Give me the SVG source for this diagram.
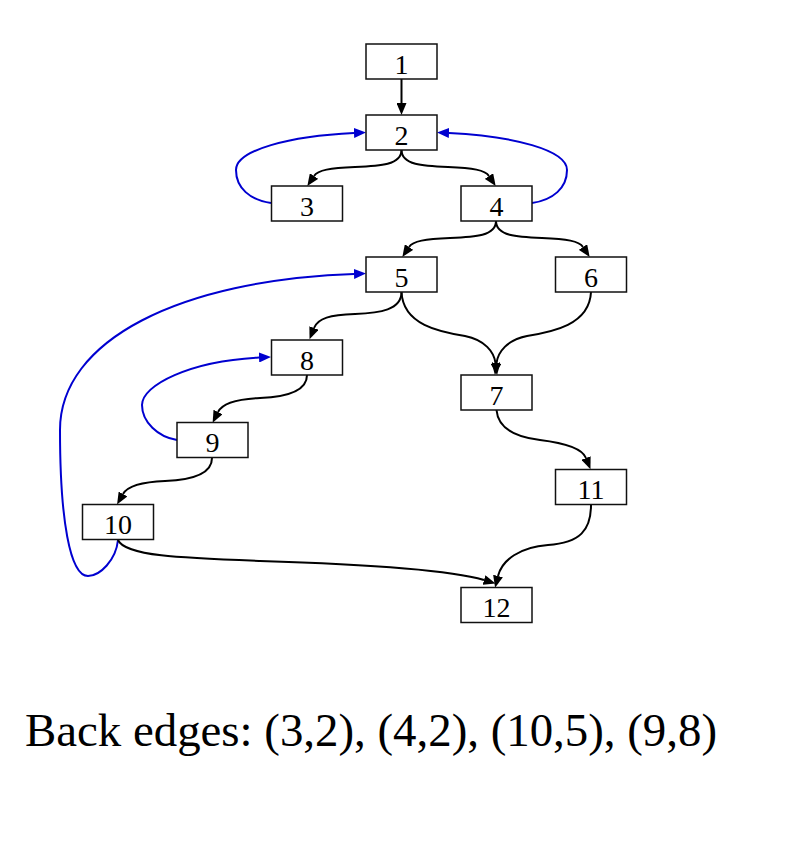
<svg xmlns="http://www.w3.org/2000/svg" width="801" height="847" viewBox="0 0 801 847">
<style>
.node rect{fill:#fff;stroke:#111;stroke-width:1.5}
.node text{font-family:"Liberation Serif","DejaVu Serif",serif;font-size:28px;fill:#000;text-anchor:middle}
.e{fill:none;stroke:#000;stroke-width:2;marker-end:url(#ab)}
.b{fill:none;stroke:#0000d0;stroke-width:2;marker-end:url(#abl)}
.cap{font-family:"Liberation Serif","DejaVu Serif",serif;font-size:47px;fill:#000}
</style>
<defs>
<marker id="ab" markerUnits="userSpaceOnUse" markerWidth="12" markerHeight="10" refX="0" refY="5" orient="auto" viewBox="0 0 12 10"><path d="M0,0 L12,5 L0,10 z" fill="#000"/></marker>
<marker id="abl" markerUnits="userSpaceOnUse" markerWidth="12" markerHeight="10" refX="0" refY="5" orient="auto" viewBox="0 0 12 10"><path d="M0,0 L12,5 L0,10 z" fill="#0000d0"/></marker>
</defs>
<g id="edges">
<path class="e" d="M401.5,79 L401.5,103"/>
<path class="e" d="M401.5,150 C401.5,165 380,166 355,167 C330,168 318,170 314,176"/>
<path class="e" d="M401.5,150 C401.5,165 423,166 448,167 C473,168 485,170 489,176"/>
<path class="b" d="M271,203 C250,200 236,188 236,170 C236,150 290,136 354,133"/>
<path class="b" d="M532,203 C553,200 567,188 567,170 C567,150 513,136 449,133"/>
<path class="e" d="M496,221 C496,236 475,237 450,238 C425,239 413,241 409,247"/>
<path class="e" d="M496,221 C496,236 517,237 542,238 C567,239 579,241 583,247"/>
<path class="e" d="M401.5,292 C403,325 440,332 465,336 C485,340 494,352 495.5,363"/>
<path class="e" d="M591,292 C589.5,325 552,332 527,336 C507,340 498,352 496.5,363"/>
<path class="e" d="M401.5,292 C401.5,310 380,313 355,314 C330,315 318,318 314,328"/>
<path class="b" d="M118,540 C116,560 100,576 88,576 C70,576 60,520 60,430 C60,340 180,280 354,274"/>
<path class="e" d="M307,375 C307,392 285,397 260,398 C235,399 222,404 218,412"/>
<path class="b" d="M177,440 C158,437 142,422 142,405 C142,385 190,361 259,357.5"/>
<path class="e" d="M212,458 C212,475 190,480 165,481 C140,482 127,487 123,494"/>
<path class="e" d="M496.5,410 C498,428 515,437 540,440 C565,443 582,448 586,458"/>
<path class="e" d="M591,505 C591,530 580,543 548,545 C520,547 502,560 498,576"/>
<path class="e" d="M118,540 C125,556 180,558 260,561 C360,564 450,570 484,580"/>
</g>
<g id="n1" class="node"><rect x="366" y="44" width="71" height="35"/><text x="401.5" y="73.5">1</text></g>
<g id="n2" class="node"><rect x="366" y="115" width="71" height="35"/><text x="401.5" y="144.5">2</text></g>
<g id="n3" class="node"><rect x="271.5" y="186" width="71" height="35"/><text x="307" y="215.5">3</text></g>
<g id="n4" class="node"><rect x="461" y="186" width="71" height="35"/><text x="496.5" y="215.5">4</text></g>
<g id="n5" class="node"><rect x="366" y="257" width="71" height="35"/><text x="401.5" y="286.5">5</text></g>
<g id="n6" class="node"><rect x="555.5" y="257" width="71" height="35"/><text x="591" y="286.5">6</text></g>
<g id="n7" class="node"><rect x="461" y="375" width="71" height="35"/><text x="496.5" y="404.5">7</text></g>
<g id="n8" class="node"><rect x="271.5" y="340" width="71" height="35"/><text x="307" y="369.5">8</text></g>
<g id="n9" class="node"><rect x="177" y="422.5" width="71" height="35"/><text x="212.5" y="452">9</text></g>
<g id="n10" class="node"><rect x="82.5" y="504.5" width="71" height="35"/><text x="118" y="534">10</text></g>
<g id="n11" class="node"><rect x="555.5" y="469.5" width="71" height="35"/><text x="591" y="499">11</text></g>
<g id="n12" class="node"><rect x="461" y="587.5" width="71" height="35"/><text x="496.5" y="617">12</text></g>
<text class="cap" x="25" y="746" textLength="692" lengthAdjust="spacingAndGlyphs">Back edges: (3,2), (4,2), (10,5), (9,8)</text>
</svg>
